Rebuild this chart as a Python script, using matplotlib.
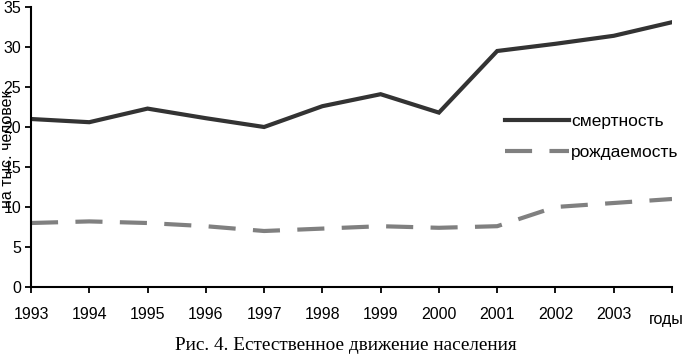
import matplotlib
matplotlib.use("Agg")
import matplotlib.pyplot as plt
from matplotlib.transforms import ScaledTranslation

categories = ["1993", "1994", "1995", "1996", "1997", "1998", "1999",
              "2000", "2001", "2002", "2003", "годы"]
mortality = [21.0, 20.6, 22.3, 21.1, 20.0, 22.6, 24.1, 21.8, 29.5, 30.4, 31.4, 33.1]
births = [8.0, 8.2, 8.0, 7.6, 7.0, 7.3, 7.6, 7.4, 7.6, 10.0, 10.5, 11.0]
y_ticks = [0, 5, 10, 15, 20, 25, 30, 35]

plt.rcParams['font.family'] = ['Liberation Sans', 'DejaVu Sans']
plt.rcParams['lines.scale_dashes'] = False

fig = plt.figure(figsize=(6.85, 3.55), dpi=100)
ax = fig.add_axes([31/685, 1-287/355, 641/685, 280/355])

x = list(range(len(categories)))
ax.plot(x, mortality, color='#333333', lw=3.0, solid_joinstyle='miter',
        label='смертность')
ax.plot(x, births, color='#808080', lw=3.0, dashes=(19.5, 12.5),
        label='рождаемость')

ax.set_xlim(0, len(categories) - 1)
ax.set_ylim(0, 35)
ax.set_xticks(x)
ax.set_xticklabels(categories)
ax.set_yticks(y_ticks)
for s in ['top', 'right']:
    ax.spines[s].set_visible(False)
for s in ['left', 'bottom']:
    ax.spines[s].set_linewidth(1.5)
    ax.spines[s].set_color('black')
ax.tick_params(axis='both', direction='out', length=4, width=1.3,
               labelsize=11.5, colors='black')
ax.tick_params(axis='x', pad=10.5)
ax.tick_params(axis='y', pad=3)

last = ax.get_xticklabels()[-1]
last.set_ha('right')
last.set_transform(last.get_transform() +
                   ScaledTranslation(12/100, -5/100, fig.dpi_scale_trans))

leg = ax.legend(loc='upper left', bbox_to_anchor=(505/685, 1-114/355),
                bbox_transform=fig.transFigure, frameon=False,
                handlelength=3.7, handletextpad=0.1, labelspacing=0.88,
                fontsize=12.5, borderpad=0, borderaxespad=0)

fig.text(8/685, 1-149/355, 'на тыс. человек', rotation=90, ha='center',
         va='center', fontsize=11.5)
fig.text(346/685, 1-346/355, 'Рис. 4. Естественное движение населения',
         ha='center', va='center', fontsize=13.9,
         family=['Liberation Serif', 'DejaVu Serif'])

fig.savefig('out.png', dpi=100)
